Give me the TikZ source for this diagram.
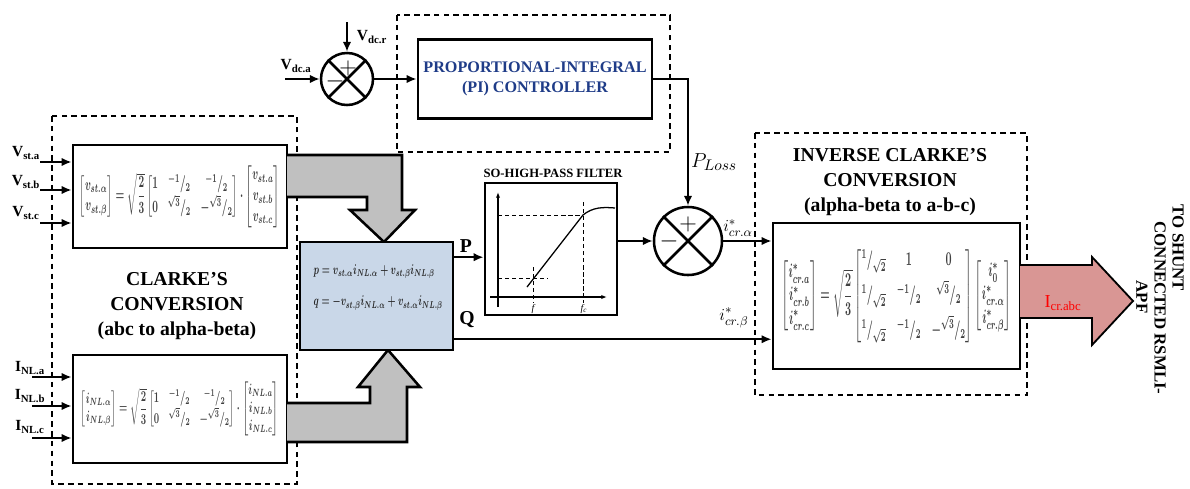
\documentclass[tikz,border=0pt]{standalone}
\usepackage{amsmath}
\usepackage{graphicx}
\usepackage{fontspec}
\setmainfont{Liberation Serif}
\usetikzlibrary{calc}
\usetikzlibrary{arrows.meta}
\definecolor{pqblue}{HTML}{C9D7E8}
\definecolor{arrgrey}{HTML}{C0C0C0}
\definecolor{outred}{HTML}{D99694}
\definecolor{piblue}{HTML}{1F3C88}
\definecolor{eqgrey}{HTML}{404040}
\newcommand\slfrac[2]{{}^{#1}/_{#2}}
\tikzset{
  blk/.style={draw, line width=2pt, fill=white, inner sep=0pt},
  dashbox/.style={line width=1.8pt, dash pattern=on 4pt off 3pt},
  arr/.style={line width=1.6pt, -{Latex[length=7pt,width=6pt]}},
  sumnode/.style={circle, draw, line width=1.8pt, fill=white, inner sep=0pt},
  lbl/.style={font=\bfseries\fontsize{11}{13}\selectfont, inner sep=0pt},
  title/.style={font=\bfseries\fontsize{14}{18}\selectfont, align=center, inner sep=0pt},
  sgn/.style={font=\bfseries\fontsize{17}{17}\selectfont, inner sep=0pt},
  rot/.style={font=\bfseries\fontsize{12}{14}\selectfont, rotate=-90, inner sep=0pt},
  fat/.style={line width=1.8pt, line join=miter},
}

\begin{document}
\begin{tikzpicture}[x=0.025cm,y=-0.025cm]
\useasboundingbox (0,0) rectangle (1190,488);

\draw[dashbox] (52,116) rectangle (297,484);
\draw[dashbox] (397,15) rectangle (670,152);
\draw[dashbox] (755,133) rectangle (1027,395);

% clarke boxes
\node[blk, minimum width=5.35cm, minimum height=2.575cm, text=eqgrey] (clk1) at (180,196.5)
  {\resizebox*{5.0cm}{1.55cm}{\boldmath$\begin{bmatrix} v_{st.\alpha}\\ v_{st.\beta}\end{bmatrix}=\sqrt{\dfrac{2}{3}}\begin{bmatrix}1 & \slfrac{-1}{2} & \slfrac{-1}{2}\\ 0 & \slfrac{\sqrt{3}}{2} & -\slfrac{\sqrt{3}}{2}\end{bmatrix}\cdot\begin{bmatrix}v_{st.a}\\ v_{st.b}\\ v_{st.c}\end{bmatrix}$}};
\node[blk, minimum width=5.35cm, minimum height=2.7cm, text=eqgrey] (clk2) at (180,409)
  {\resizebox*{4.95cm}{1.35cm}{\boldmath$\begin{bmatrix} i_{NL.\alpha}\\ i_{NL.\beta}\end{bmatrix}=\sqrt{\dfrac{2}{3}}\begin{bmatrix}1 & \slfrac{-1}{2} & \slfrac{-1}{2}\\ 0 & \slfrac{\sqrt{3}}{2} & -\slfrac{\sqrt{3}}{2}\end{bmatrix}\cdot\begin{bmatrix}i_{NL.a}\\ i_{NL.b}\\ i_{NL.c}\end{bmatrix}$}};
\node[title] (clktxt) at (177,306) {CLARKE’S\\CONVERSION\\(abc to alpha-beta)};

\coordinate (va) at (40,162);
\coordinate (vb) at (40,190);
\coordinate (vc) at (40,223);
\coordinate (ia) at (32,377);
\coordinate (ib) at (32,406);
\coordinate (ic) at (32,438);
\foreach \p in {va,vb,vc} \draw[arr] (\p) -- (\p -| clk1.west);
\foreach \p in {ia,ib,ic} \draw[arr] (\p) -- (\p -| clk2.west);
\node[lbl] (lva) at (26,153) {V\textsubscript{st.a}};
\node[lbl] (lvb) at (26,182) {V\textsubscript{st.b}};
\node[lbl] (lvc) at (26,213) {V\textsubscript{st.c}};
\node[lbl] (lia) at (30,368) {I\textsubscript{NL.a}};
\node[lbl] (lib) at (30,396) {I\textsubscript{NL.b}};
\node[lbl] (lic) at (30,427) {I\textsubscript{NL.c}};

% grey arrows
\filldraw[fat, fill=arrgrey] (287,155) -- (402,155) -- (402,210) -- (415,210) -- (384,242)
  -- (350,210) -- (367,210) -- (367,197) -- (287,197);
\filldraw[fat, fill=arrgrey] (287,442) -- (407,442) -- (407,387) -- (420,387) -- (388,350)
  -- (358,387) -- (370,387) -- (370,403) -- (287,403);

% pq block
\node[blk, fill=pqblue, minimum width=3.825cm, minimum height=2.7cm] (pq) at (376.5,296) {};
\node[inner sep=0pt, text=black!85] (pqeq) at (378,287)
  {\resizebox*{3.45cm}{1.2cm}{\boldmath$\begin{array}{l} p = v_{st.\alpha} i_{NL.\alpha} + v_{st.\beta} i_{NL.\beta}\\[10pt] q = -v_{st.\beta} i_{NL.\alpha} + v_{st.\alpha} i_{NL.\beta}\end{array}$}};

% dc loop
\node[sumnode, minimum size=1.3cm] (sum1) at (347,79) {};
\draw[line width=1.8pt] (sum1.north west) -- (sum1.south east) (sum1.north east) -- (sum1.south west);
\node[sgn] (s1p) at (348,68) {$\mathbf{+}$};
\node[sgn] (s1m) at (335,81) {$\mathbf{-}$};
\coordinate (vdca) at (285,79);
\coordinate (vdcr) at (347,22);
\draw[arr] (vdca) -- (sum1.west);
\draw[arr] (vdcr) -- (sum1.north);
\node[lbl] (lvdca) at (296,66) {V\textsubscript{dc.a}};
\node[lbl] (lvdcr) at (372,37) {V\textsubscript{dc.r}};

\node[blk, minimum width=5.85cm, minimum height=1.975cm, font=\bfseries\fontsize{11.5}{14}\selectfont, text=piblue, align=center] (pi) at (535,79)
  {PROPORTIONAL-INTEGRAL\\(PI) CONTROLLER};
\draw[arr] (sum1.east) -- (sum1.east -| pi.west);

% filter
\node[blk, minimum width=3.3cm, minimum height=3.3cm] (filt) at (551,249) {};
\node[font=\bfseries\fontsize{9}{10}\selectfont, inner sep=0pt] (filttxt) at (553,173) {SO-HIGH-PASS FILTER};
\draw[line width=0.8pt, -{Latex[length=4pt,width=3pt]}] (498,307) -- (498,192);
\draw[line width=0.8pt, -{Latex[length=4pt,width=3pt]}] (490,297) -- (607,297);
\draw[line width=0.9pt] (527,287) -- (583,215) .. controls (593,207) and (603,207) .. (615,208);
\draw[line width=0.6pt, densely dashed] (498,215) -- (583,215) (583,202) -- (583,303)
  (498,278) -- (548,278) (533,267) -- (533,303);
\node[font=\itshape\fontsize{7}{8}\selectfont, inner sep=0pt] (flo) at (533,309) {f};
\node[font=\itshape\fontsize{7}{8}\selectfont, inner sep=0pt] (fhi) at (584,309) {f\textsubscript{c}};

\coordinate (pout) at ($(pq.north east)!.15!(pq.south east)$);
\coordinate (qout) at ($(pq.north east)!.89!(pq.south east)$);
\draw[arr] (pout) -- (pout -| filt.west);
\node[font=\bfseries\fontsize{14}{16}\selectfont, inner sep=0pt] (lp) at (466,246) {P};
\node[font=\bfseries\fontsize{14}{16}\selectfont, inner sep=0pt] (lq) at (467,320) {Q};

% second sum
\node[sumnode, minimum size=1.7cm] (sum2) at (688,241) {};
\draw[line width=1.8pt] (sum2.north west) -- (sum2.south east) (sum2.north east) -- (sum2.south west);
\node[sgn] (s2p) at (688,224) {$\mathbf{+}$};
\node[sgn] (s2m) at (669,241) {$\mathbf{-}$};
\draw[arr] (pi.east) -| (sum2.north);
\node[inner sep=0pt, font=\fontsize{15}{16}\selectfont] (lloss) at (714,162) {$P_{Loss}$};
\draw[arr] (filt.east |- sum2.west) -- (sum2.west);

% inverse clarke
\node[title] (invtxt) at (890,182) {INVERSE CLARKE’S\\CONVERSION\\(alpha-beta to a-b-c)};
\node[blk, minimum width=6.175cm, minimum height=3.65cm, text=eqgrey] (inv) at (896.5,296)
  {\resizebox*{5.75cm}{2.35cm}{\boldmath$\begin{bmatrix} i^*_{cr.a}\\ i^*_{cr.b}\\ i^*_{cr.c}\end{bmatrix}=\sqrt{\dfrac{2}{3}}\begin{bmatrix}\slfrac{1}{\sqrt2} & 1 & 0\\[4pt] \slfrac{1}{\sqrt2} & \slfrac{-1}{2} & \slfrac{\sqrt3}{2}\\[4pt] \slfrac{1}{\sqrt2} & \slfrac{-1}{2} & -\slfrac{\sqrt3}{2}\end{bmatrix}\begin{bmatrix} i^*_0\\ i^*_{cr.\alpha}\\ i^*_{cr.\beta}\end{bmatrix}$}};
\draw[arr] (sum2.east) -- (sum2.east -| inv.west);
\draw[arr] (qout) -- (qout -| inv.west);
\node[inner sep=0pt, font=\fontsize{13}{14}\selectfont] (lalpha) at (738,228) {$i^*_{cr.\alpha}$};
\node[inner sep=0pt, font=\fontsize{13}{14}\selectfont] (lbeta) at (734,318) {$i^*_{cr.\beta}$};

% output
\filldraw[line width=1.3pt, line join=miter, fill=outred] (1020,265) -- (1092,265) -- (1092,257)
  -- (1133,301) -- (1092,345) -- (1092,318) -- (1020,318);
\node[inner sep=0pt, text=red, font=\fontsize{13}{14}\selectfont] (lout) at (1063,303) {I\textsubscript{cr.abc}};
\node[rot] (toshunt) at (1178,248) {TO SHUNT};
\node[rot] (conn) at (1160,308) {CONNECTED RSMLI-};
\node[rot] (apf) at (1142,297) {APF};
\end{tikzpicture}
\end{document}
